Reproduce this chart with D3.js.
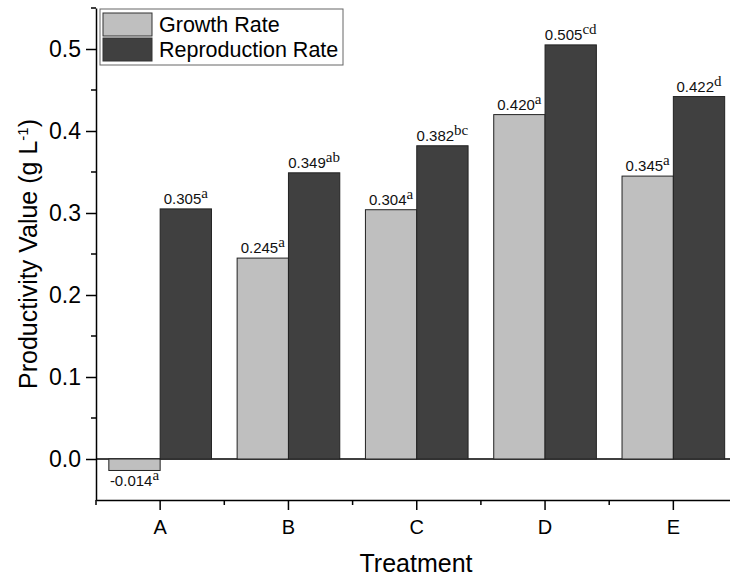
<!DOCTYPE html>
<html>
<head>
<meta charset="utf-8">
<script src="https://cdn.jsdelivr.net/npm/d3@7"></script>
<style>
  html, body { margin: 0; padding: 0; background: #fff; }
  svg { display: block; font-family: "Liberation Sans", Arial, sans-serif; }
</style>
</head>
<body>
<div id="chart"></div>
<script>
// data
const categories = ['A', 'B', 'C', 'D', 'E'];
const seriesNames = ['Growth Rate', 'Reproduction Rate'];
const growthRate = [-0.014, 0.245, 0.304, 0.420, 0.345];
const reproductionRate = [0.305, 0.349, 0.382, 0.505, 0.442];
// labels printed on the figure (E reproduction reads 0.422 although bar sits higher)
const growthLabels = ['-0.014', '0.245', '0.304', '0.420', '0.345'];
const growthLetters = ['a', 'a', 'a', 'a', 'a'];
const reproductionLabels = ['0.305', '0.349', '0.382', '0.505', '0.422'];
const reproductionLetters = ['a', 'ab', 'bc', 'cd', 'd'];
const yMajorTicks = [0.0, 0.1, 0.2, 0.3, 0.4, 0.5];
const yMinorTicks = [0.05, 0.15, 0.25, 0.35, 0.45, 0.55];

const width = 730, height = 579;
const colors = ['#bfbfbf', '#404040'];

const svg = d3.select('#chart').append('svg')
  .attr('width', width)
  .attr('height', height);

// scales
const x = d3.scaleBand()
  .domain(categories)
  .range([96, 737.5])
  .paddingInner(0.2)
  .paddingOuter(0.1);

const xInner = d3.scaleBand()
  .domain(seriesNames)
  .range([0, x.bandwidth()]);

const y = d3.scaleLinear()
  .domain([-0.05, 0.55])
  .range([500, 8]);

const rows = categories.map((c, i) => ({
  cat: c,
  values: [
    { name: seriesNames[0], v: growthRate[i], label: growthLabels[i], sup: growthLetters[i], color: colors[0] },
    { name: seriesNames[1], v: reproductionRate[i], label: reproductionLabels[i], sup: reproductionLetters[i], color: colors[1] }
  ]
}));

// zero line
svg.append('line')
  .attr('x1', x.range()[0]).attr('x2', width)
  .attr('y1', y(0)).attr('y2', y(0))
  .attr('stroke', '#000').attr('stroke-width', 1.3);

// bars
const groups = svg.selectAll('.grp')
  .data(rows)
  .enter().append('g')
  .attr('class', 'grp')
  .attr('transform', d => `translate(${x(d.cat)},0)`);

groups.selectAll('rect')
  .data(d => d.values)
  .enter().append('rect')
  .attr('x', d => xInner(d.name))
  .attr('y', d => y(Math.max(0, d.v)))
  .attr('width', xInner.bandwidth())
  .attr('height', d => Math.abs(y(d.v) - y(0)))
  .attr('fill', d => d.color)
  .attr('stroke', '#222')
  .attr('stroke-width', 1);

// value labels with superscript letters
const labels = groups.selectAll('text.val')
  .data(d => d.values)
  .enter().append('text')
  .attr('class', 'val')
  .attr('x', d => xInner(d.name) + xInner.bandwidth() / 2)
  .attr('y', d => d.v >= 0 ? y(d.v) - 5 : y(d.v) + 16)
  .attr('text-anchor', 'middle')
  .style('font-size', '15px')
  .attr('fill', '#111');

labels.append('tspan').text(d => d.label);
labels.append('tspan')
  .attr('dy', -6)
  .style('font-family', '"Liberation Serif", "Times New Roman", serif')
  .style('font-size', '15px')
  .text(d => d.sup);

// y axis
const yAxis = svg.append('g')
  .attr('transform', `translate(${x.range()[0]},0)`)
  .call(d3.axisLeft(y).tickValues(yMajorTicks).tickFormat(d3.format('.1f')).tickSize(10).tickPadding(5).tickSizeOuter(0));
yAxis.select('.domain').attr('stroke-width', 1.5);
yAxis.selectAll('.tick line').attr('stroke-width', 1.5);
yAxis.selectAll('.tick text').style('font-size', '23px').attr('fill', '#000');

svg.append('g')
  .selectAll('line')
  .data(yMinorTicks)
  .enter().append('line')
  .attr('x1', x.range()[0] - 5).attr('x2', x.range()[0])
  .attr('y1', d => y(d)).attr('y2', d => y(d))
  .attr('stroke', '#000').attr('stroke-width', 1.5);

// x axis
const xAxis = svg.append('g')
  .attr('transform', `translate(0,${y(-0.05)})`)
  .call(d3.axisBottom(x).tickSize(10).tickPadding(10).tickSizeOuter(0));
xAxis.select('.domain').attr('stroke-width', 1.5);
xAxis.selectAll('.tick line').attr('stroke-width', 1.5);
xAxis.selectAll('.tick text').style('font-size', '20px').attr('fill', '#000');

// minor ticks at category boundaries
const boundaries = categories.map(c => x(c) - x.step() * x.paddingInner() / 2);
svg.append('g')
  .selectAll('line')
  .data(boundaries)
  .enter().append('line')
  .attr('x1', d => d).attr('x2', d => d)
  .attr('y1', y(-0.05)).attr('y2', y(-0.05) + 5)
  .attr('stroke', '#000').attr('stroke-width', 1.5);

// axis titles
svg.append('text')
  .attr('x', 416).attr('y', 572)
  .attr('text-anchor', 'middle')
  .style('font-size', '25px')
  .text('Treatment');

const yTitle = svg.append('text')
  .attr('transform', 'translate(37,254) rotate(-90)')
  .attr('text-anchor', 'middle')
  .style('font-size', '25px');
yTitle.append('tspan').text('Productivity Value (g L');
yTitle.append('tspan').attr('dy', -9).style('font-size', '15px').text('-1');
yTitle.append('tspan').attr('dy', 9).text(')');

// legend
const legend = svg.append('g').attr('transform', 'translate(100,9)');
legend.append('rect')
  .attr('width', 243).attr('height', 56)
  .attr('fill', '#fff').attr('stroke', '#666').attr('stroke-width', 1);

const legendItems = legend.selectAll('.li')
  .data(seriesNames)
  .enter().append('g')
  .attr('class', 'li')
  .attr('transform', (d, i) => `translate(3,${4 + i * 25})`);

legendItems.append('rect')
  .attr('width', 49).attr('height', 23)
  .attr('fill', (d, i) => colors[i])
  .attr('stroke', '#333').attr('stroke-width', 1);

legendItems.append('text')
  .attr('x', 56).attr('y', 19)
  .style('font-size', '21.5px')
  .text(d => d);
</script>
</body>
</html>
